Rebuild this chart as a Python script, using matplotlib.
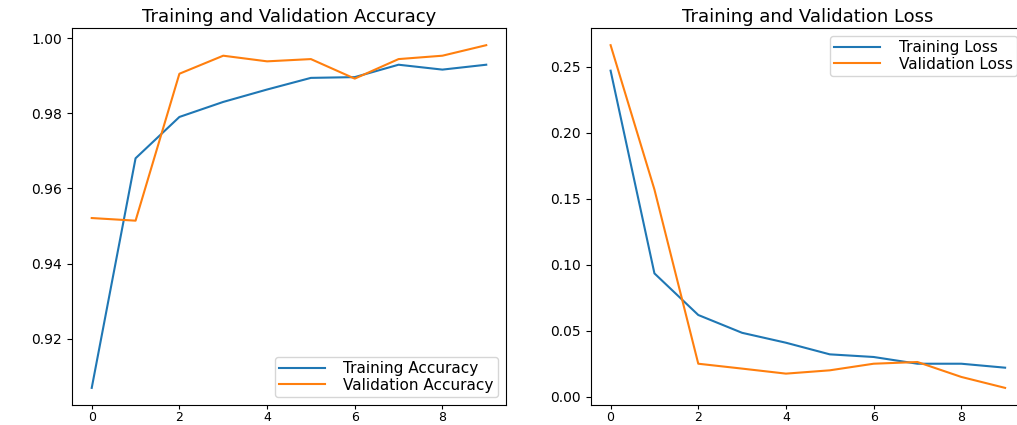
import matplotlib
matplotlib.use("Agg")
from matplotlib import pyplot as plt

epochs = list(range(10))

acc = [0.9069, 0.9680, 0.9790, 0.9830, 0.9863, 0.9894, 0.9896, 0.9929, 0.9916, 0.9929]
val_acc = [0.9521, 0.9514, 0.9905, 0.9953, 0.9938, 0.9944, 0.9892, 0.9944, 0.9953, 0.9981]

loss = [0.2470, 0.0935, 0.0620, 0.0485, 0.0410, 0.0322, 0.0302, 0.0251, 0.0251, 0.0221]
val_loss = [0.2663, 0.1570, 0.0251, 0.0214, 0.0176, 0.0201, 0.0251, 0.0264, 0.0151, 0.0068]

fig = plt.figure(figsize=(10.17, 4.25), dpi=100)

legend_kw = dict(fontsize=11, labelspacing=0.1, handlelength=3.0,
                 borderpad=0.3, handletextpad=1.2)

ax1 = fig.add_axes([0.0708, 0.047, 0.4267, 0.887])
ax1.plot(epochs, acc, label="Training Accuracy")
ax1.plot(epochs, val_acc, label="Validation Accuracy")
ax1.set_yticks([0.92, 0.94, 0.96, 0.98, 1.00])
ax1.legend(loc="lower right", **legend_kw)
ax1.set_title("Training and Validation Accuracy", fontsize=13, pad=4)

ax2 = fig.add_axes([0.581, 0.047, 0.4267, 0.887])
ax2.plot(epochs, loss, label="Training Loss")
ax2.plot(epochs, val_loss, label="Validation Loss")
ax2.legend(loc="upper right", **legend_kw)
ax2.set_title("Training and Validation Loss", fontsize=13, pad=4)

for ax in (ax1, ax2):
    ax.tick_params(axis="y", labelsize=10)
    ax.tick_params(axis="x", labelsize=9, pad=1.5, length=3)

fig.savefig("out.png", dpi=100)
